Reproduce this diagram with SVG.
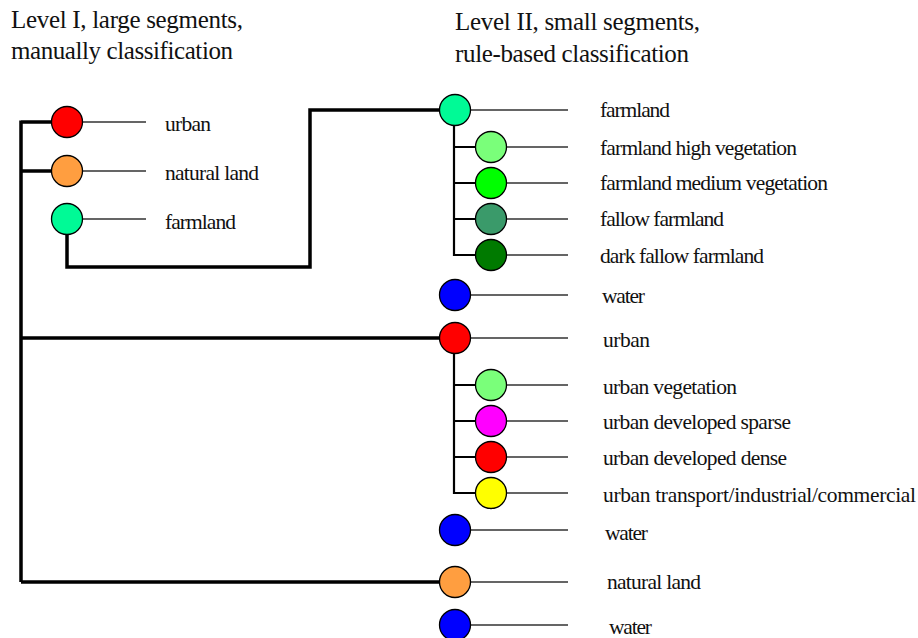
<svg xmlns="http://www.w3.org/2000/svg" width="918" height="638" viewBox="0 0 918 638">
<style>
text{font-family:"Liberation Serif","Times New Roman",serif;fill:#111}
.t{font-size:25px}
.l{font-size:21.5px}
.n{stroke:#000;stroke-width:1.3}
.thin{stroke:#333;stroke-width:1.4;fill:none}
.thick{stroke:#000;stroke-width:3.5;fill:none}
.mid{stroke:#000;stroke-width:2.2;fill:none}
</style>
<rect width="918" height="638" fill="#fff"/>
<g id="titles">
<text class="t" x="11" y="28" textLength="232" lengthAdjust="spacing">Level I, large segments,</text>
<text class="t" x="11" y="59" textLength="222" lengthAdjust="spacing">manually classification</text>
<text class="t" x="455" y="30" textLength="245" lengthAdjust="spacing">Level II, small segments,</text>
<text class="t" x="455" y="62" textLength="234" lengthAdjust="spacing">rule-based classification</text>
</g>
<g id="connectors">
<path class="thick" d="M21 120.5 V582 M21 122 H52 M21 171 H52 M21 338 H439 M21 582 H439"/>
<path class="thick" d="M67 234 V267 H310 V110 H439"/>
<path class="mid" d="M454 125 V255 H476 M454 147 H476 M454 183 H476 M454 219 H476"/>
<path class="mid" d="M454 353 V493 H476 M454 385 H476 M454 421 H476 M454 457 H476"/>
<path class="thin" d="M82 122 H146 M82 171 H146 M82 219 H146"/>
<path class="thin" d="M470 110 H568 M507 147 H568 M507 183 H568 M507 219 H568 M507 255 H568 M470 295 H568 M470 338 H568 M507 385 H568 M507 421 H568 M507 457 H568 M507 493 H568 M470 530 H568 M470 582 H568 M470 625 H568"/>
</g>
<g id="l1-urban"><circle class="n" cx="67" cy="122" r="15.5" fill="#ff0000"/><text class="l" x="165" y="131" textLength="46" lengthAdjust="spacing">urban</text></g>
<g id="l1-natural"><circle class="n" cx="67" cy="171" r="15.5" fill="#ff9e40"/><text class="l" x="165" y="180" textLength="94" lengthAdjust="spacing">natural land</text></g>
<g id="l1-farmland"><circle class="n" cx="67" cy="219" r="15.5" fill="#00fa96"/><text class="l" x="165" y="229" textLength="71" lengthAdjust="spacing">farmland</text></g>
<g id="l2-farmland"><circle class="n" cx="455" cy="110" r="15.5" fill="#00fa96"/><text class="l" x="600" y="117" textLength="70" lengthAdjust="spacing">farmland</text></g>
<g id="l2-farm-high"><circle class="n" cx="491" cy="147" r="15.5" fill="#7aff7a"/><text class="l" x="600" y="155" textLength="197" lengthAdjust="spacing">farmland high vegetation</text></g>
<g id="l2-farm-medium"><circle class="n" cx="491" cy="183" r="15.5" fill="#00ff00"/><text class="l" x="600" y="190" textLength="228" lengthAdjust="spacing">farmland medium vegetation</text></g>
<g id="l2-fallow"><circle class="n" cx="491" cy="219" r="15.5" fill="#3a9a6a"/><text class="l" x="600" y="226" textLength="124" lengthAdjust="spacing">fallow farmland</text></g>
<g id="l2-dark-fallow"><circle class="n" cx="491" cy="255" r="15.5" fill="#007a00"/><text class="l" x="600" y="263" textLength="164" lengthAdjust="spacing">dark fallow farmland</text></g>
<g id="l2-water1"><circle class="n" cx="455" cy="295" r="15.5" fill="#0000ff"/><text class="l" x="602" y="303" textLength="43" lengthAdjust="spacing">water</text></g>
<g id="l2-urban"><circle class="n" cx="455" cy="338" r="15.5" fill="#ff0000"/><text class="l" x="603" y="347" textLength="47" lengthAdjust="spacing">urban</text></g>
<g id="l2-urban-veg"><circle class="n" cx="491" cy="385" r="15.5" fill="#7aff7a"/><text class="l" x="603" y="394" textLength="134" lengthAdjust="spacing">urban vegetation</text></g>
<g id="l2-urban-sparse"><circle class="n" cx="491" cy="421" r="15.5" fill="#ff00ff"/><text class="l" x="603" y="429" textLength="188" lengthAdjust="spacing">urban developed sparse</text></g>
<g id="l2-urban-dense"><circle class="n" cx="491" cy="457" r="15.5" fill="#ff0000"/><text class="l" x="603" y="465" textLength="184" lengthAdjust="spacing">urban developed dense</text></g>
<g id="l2-urban-transport"><circle class="n" cx="491" cy="493" r="15.5" fill="#ffff00"/><text class="l" x="603" y="502" textLength="313" lengthAdjust="spacing">urban transport/industrial/commercial</text></g>
<g id="l2-water2"><circle class="n" cx="455" cy="530" r="15.5" fill="#0000ff"/><text class="l" x="605" y="540" textLength="43" lengthAdjust="spacing">water</text></g>
<g id="l2-natural"><circle class="n" cx="455" cy="582" r="15.5" fill="#ff9e40"/><text class="l" x="607" y="589" textLength="94" lengthAdjust="spacing">natural land</text></g>
<g id="l2-water3"><circle class="n" cx="455" cy="625" r="15.5" fill="#0000ff"/><text class="l" x="609" y="634" textLength="43" lengthAdjust="spacing">water</text></g>
</svg>
